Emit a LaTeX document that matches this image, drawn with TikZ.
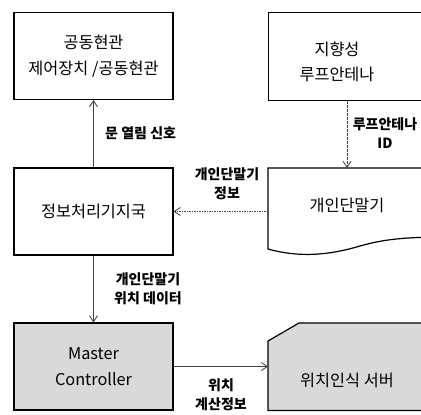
\documentclass[tikz,border=0pt]{standalone}
\usepackage{fontspec}
\setmainfont{Noto Sans CJK KR}
\usetikzlibrary{arrows.meta}
\definecolor{boxgray}{HTML}{D9D9D9}
\tikzset{
  box/.style={draw=black, line width=1.2pt, minimum width=159pt, minimum height=87pt, inner sep=0pt},
  boxtxt/.style={font=\fontsize{16.3}{25.5}\selectfont, align=center, inner sep=0pt},
  lbl/.style={font=\fontsize{14}{19}\selectfont\bfseries, align=center, inner sep=0pt},
  conn/.style={draw=black!75, line width=0.8pt, -{Straight Barb[length=6pt,width=8pt]}},
  dashconn/.style={conn, dash pattern=on 2.5pt off 1.5pt},
  dotconn/.style={conn, dash pattern=on 1.5pt off 1pt},
}
\begin{document}
\begin{tikzpicture}[x=1pt,y=-1pt]
\useasboundingbox (0,0) rectangle (421,415);
\clip (0,0) rectangle (421,415);
% left column
\node[box] (door) at (93.5,56) {};
\node[boxtxt] (doortxt) at (door.center) {공동현관\\제어장치 /공동현관};
\node[box] (info) at (93.5,211.5) {};
\node[boxtxt] (infotxt) at (info.center) {정보처리기지국};
\node[box, fill=boxgray] (master) at (93.5,366.5) {};
\node[boxtxt] (mastertxt) at (master.center) {Master\\Controller};
% right column
\node[box, anchor=north west, minimum width=180pt, minimum height=88pt] (ant) at (268,12) {};
\node[boxtxt] (anttxt) at (337,62) {지향성\\루프안테나};
\node[anchor=north west, minimum width=180pt, minimum height=82pt, inner sep=0pt] (doc) at (268,168) {};
\draw[line width=1.2pt] (doc.north east) -- (doc.north west) -- (268,249)
  .. controls (300,258) and (330,255) .. (360,246)
  .. controls (385,239) and (405,237) .. (450,237);
\node[boxtxt] (doctxt) at (347,205) {개인단말기};
\node[anchor=north west, minimum width=180pt, minimum height=87pt, inner sep=0pt] (srv) at (268,323) {};
\draw[line width=1.2pt, fill=boxgray] (srv.south west) -- (268,341) -- (299,323) -- (srv.north east) -- (srv.south east) -- cycle;
\node[boxtxt] (srvtxt) at (347,380) {위치인식 서버};
% connectors
\draw[conn] (info.north) -- (door.south);
\node[lbl, anchor=west] (l1) at (105,133) {문 열림 신호};
\draw[dashconn] (ant.south -| doctxt) -- (doc.north -| doctxt);
\node[lbl] (l2) at (385,133) {루프안테나\\ID};
\draw[dotconn] (doc.west |- info.east) -- (info.east);
\node[lbl] (l3) at (227,184) {개인단말기\\정보};
\draw[conn] (info.south) -- (master.north);
\node[lbl] (l4) at (148,289) {개인단말기\\위치 데이터};
\draw[conn] (master.east) -- (srv.west |- master.east);
\node[lbl] (l5) at (221,395) {위치\\계산정보};
\end{tikzpicture}
\end{document}
